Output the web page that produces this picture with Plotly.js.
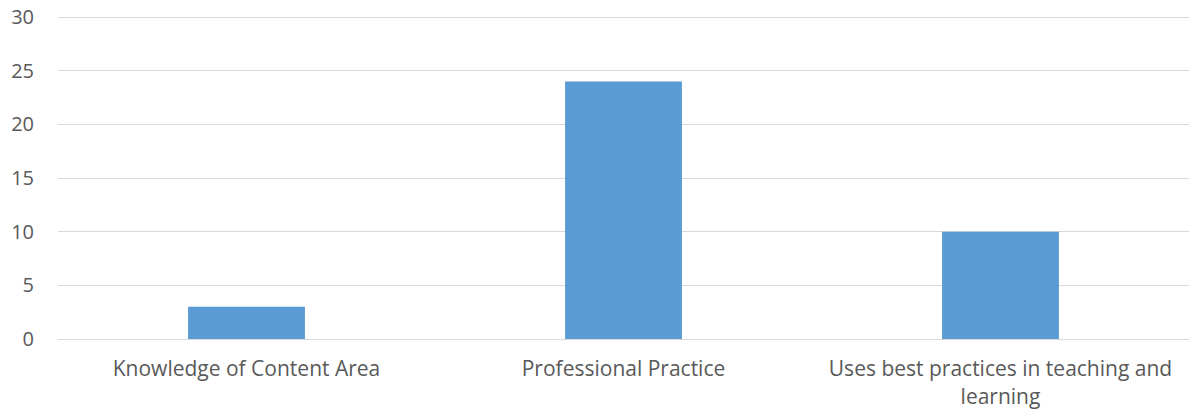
<!DOCTYPE html>
<html>
<head>
<meta charset="utf-8">
<script src="https://cdn.plot.ly/plotly-3.0.1.min.js"></script>
<style>html,body{margin:0;padding:0;background:#fff;}#chart{width:1189px;height:414px;}</style>
</head>
<body>
<div id="chart"></div>
<script>
const categories = ["Knowledge of Content Area", "Professional Practice", "Uses best practices in teaching and<br>learning"];
const values = [3, 24, 10];
const yTicks = [0, 5, 10, 15, 20, 25, 30];

const trace = {
  type: 'bar',
  x: categories,
  y: values,
  marker: {color: '#5B9BD5'},
  hoverinfo: 'x+y'
};

const layout = {
  width: 1189,
  height: 414,
  margin: {l: 58, r: 0, t: 15, b: 75},
  paper_bgcolor: '#ffffff',
  plot_bgcolor: '#ffffff',
  bargap: 0.69,
  showlegend: false,
  font: {family: '"Open Sans", sans-serif', size: 21, color: '#595959'},
  xaxis: {
    showgrid: false,
    showline: true,
    linecolor: '#d9d9d9',
    linewidth: 1,
    ticks: '',
    ticklabelstandoff: 11,
    tickfont: {size: 21, color: '#595959'},
    fixedrange: true
  },
  yaxis: {
    range: [0, 30.2],
    tickvals: yTicks,
    ticktext: yTicks.map(String),
    showgrid: true,
    gridcolor: '#d9d9d9',
    gridwidth: 1,
    zeroline: false,
    showline: false,
    ticks: '',
    ticklabelstandoff: 23,
    tickfont: {size: 20, color: '#595959'},
    fixedrange: true
  }
};

Plotly.newPlot('chart', [trace], layout, {displayModeBar: false, staticPlot: true});
</script>
</body>
</html>
